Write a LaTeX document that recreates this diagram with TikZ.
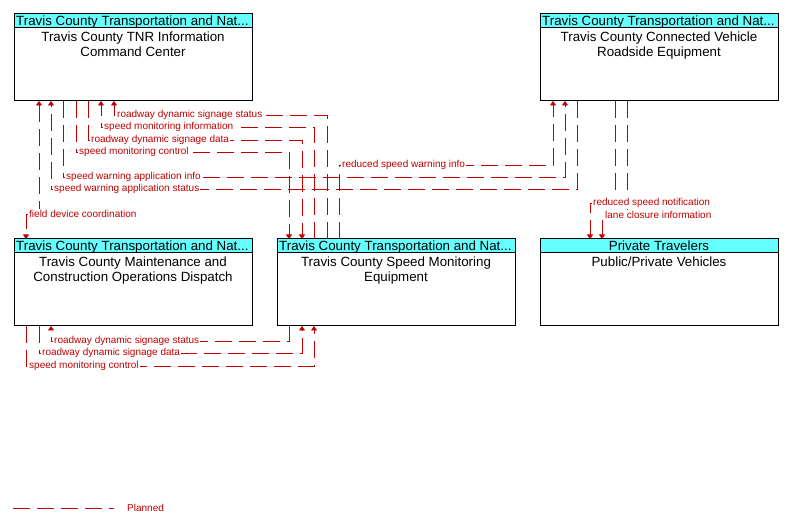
\documentclass[tikz,border=0pt]{standalone}
\usepackage{fontspec}
\setmainfont{Liberation Sans}
\usetikzlibrary{arrows.meta,calc}
\definecolor{flow}{RGB}{192,0,0}
\definecolor{hdr}{RGB}{102,255,255}
\begin{document}
\begin{tikzpicture}[x=1pt,y=-1pt,
  >={Triangle[length=4.5pt,width=6pt]},
  box/.style={draw=black,fill=white,line width=1pt,inner sep=0pt,outer sep=0pt,minimum width=238pt,minimum height=87pt,anchor=north west},
  hdrbox/.style={draw=black,fill=hdr,line width=1pt,inner sep=0pt,outer sep=0pt,minimum width=238pt,minimum height=14pt,anchor=north west},
  hdrtxt/.style={font=\fontsize{13.33}{15}\selectfont,inner sep=0pt,anchor=base west},
  hdrctr/.style={font=\fontsize{13.33}{15}\selectfont,inner sep=0pt,anchor=base},
  bodytxt/.style={font=\fontsize{13.33}{15}\selectfont,align=center,inner sep=0pt,anchor=north},
  conn/.style={draw=flow,line width=0.9pt,dash pattern=on 17pt off 7pt},
  lbl/.style={text=flow,font=\fontsize{10}{11}\selectfont,fill=white,inner sep=1pt,anchor=west}
]
\useasboundingbox (0,0) rectangle (788,526);

% boxes
\node[box] (tnr) at (14,14) {};
\node[hdrbox] (tnrh) at (tnr.north west) {};
\node[hdrtxt] (tnrht) at ($(tnrh.north west)+(2,12)$) {Travis County Transportation and Nat...};
\node[bodytxt] (tnrt) at ($(tnr.north)+(0,17.5)$) {Travis County TNR Information\\Command Center};

\node[box] (cv) at (540,14) {};
\node[hdrbox] (cvh) at (cv.north west) {};
\node[hdrtxt] (cvht) at ($(cvh.north west)+(2,12)$) {Travis County Transportation and Nat...};
\node[bodytxt] (cvt) at ($(cv.north)+(0,17.5)$) {Travis County Connected Vehicle\\Roadside Equipment};

\node[box] (mnt) at (14,239) {};
\node[hdrbox] (mnth) at (mnt.north west) {};
\node[hdrtxt] (mntht) at ($(mnth.north west)+(2,12)$) {Travis County Transportation and Nat...};
\node[bodytxt] (mntt) at ($(mnt.north)+(0,17.5)$) {Travis County Maintenance and\\Construction Operations Dispatch};

\node[box] (spd) at (277,239) {};
\node[hdrbox] (spdh) at (spd.north west) {};
\node[hdrtxt] (spdht) at ($(spdh.north west)+(2,12)$) {Travis County Transportation and Nat...};
\node[bodytxt] (spdt) at ($(spd.north)+(0,17.5)$) {Travis County Speed Monitoring\\Equipment};

\node[box] (pt) at (540,239) {};
\node[hdrbox] (pth) at (pt.north west) {};
\node[hdrctr] (ptht) at ($(pth.north)+(0,12)$) {Private Travelers};
\node[bodytxt] (ptt) at ($(pt.north)+(0,17.5)$) {Public/Private Vehicles};

% attachment points
\coordinate (tB25) at ([xshift=25pt]tnr.south west);
\coordinate (tB37) at ([xshift=37pt]tnr.south west);
\coordinate (tB49) at ([xshift=49pt]tnr.south west);
\coordinate (tB62) at ([xshift=62pt]tnr.south west);
\coordinate (tB74) at ([xshift=74pt]tnr.south west);
\coordinate (tB87) at ([xshift=87pt]tnr.south west);
\coordinate (tB100) at ([xshift=100pt]tnr.south west);
\coordinate (sT12) at ([xshift=12pt]spd.north west);
\coordinate (sT25) at ([xshift=25pt]spd.north west);
\coordinate (sT37) at ([xshift=37pt]spd.north west);
\coordinate (sT50) at ([xshift=50pt]spd.north west);
\coordinate (sT62) at ([xshift=62pt]spd.north west);
\coordinate (sB12) at ([xshift=12pt]spd.south west);
\coordinate (sB25) at ([xshift=25pt]spd.south west);
\coordinate (sB37) at ([xshift=37pt]spd.south west);
\coordinate (mT12) at ([xshift=12pt]mnt.north west);
\coordinate (mB12) at ([xshift=12pt]mnt.south west);
\coordinate (mB25) at ([xshift=25pt]mnt.south west);
\coordinate (mB37) at ([xshift=37pt]mnt.south west);
\coordinate (cB13) at ([xshift=13pt]cv.south west);
\coordinate (cB25) at ([xshift=25pt]cv.south west);
\coordinate (cB37) at ([xshift=37pt]cv.south west);
\coordinate (cB75) at ([xshift=75pt]cv.south west);
\coordinate (cB87) at ([xshift=87pt]cv.south west);
\coordinate (pT50) at ([xshift=50pt]pt.north west);
\coordinate (pT62) at ([xshift=62pt]pt.north west);

% levels
\coordinate (L115) at (0,115);
\coordinate (L127) at (0,127);
\coordinate (L140) at (0,140);
\coordinate (L152) at (0,152);
\coordinate (L165) at (0,165);
\coordinate (L177) at (0,177);
\coordinate (L189) at (0,189);
\coordinate (L203) at (0,203);
\coordinate (L214) at (0,214);
\coordinate (L215) at (0,215);
\coordinate (L341) at (0,341);
\coordinate (L353) at (0,353);
\coordinate (L366) at (0,366);

% connectors
\draw[conn,->] (sT50) -- (sT50 |- L115) -| (tB100);
\draw[conn,->] (sT37) -- (sT37 |- L127) -| (tB87);
\draw[conn,->] (tB74) -- (tB74 |- L140) -| (sT25);
\draw[conn,->] (tB62) -- (tB62 |- L152) -| (sT12);
\draw[conn,->] (tB49) -- (tB49 |- L177) -| (cB25);
\draw[conn,->] (cB37) -- (cB37 |- L189) -| (tB37);
\draw[conn,<->] (tB25) -- (tB25 |- L214) -| (mT12);
\draw[conn,->] (sT62) -- (sT62 |- L165) -| (cB13);
\draw[conn,->] (cB75) -- (cB75 |- L203) -| (pT50);
\draw[conn,->] (cB87) -- (cB87 |- L215) -| (pT62);
\draw[conn,->] (sB12) -- (sB12 |- L341) -| (mB37);
\draw[conn,->] (mB25) -- (mB25 |- L353) -| (sB25);
\draw[conn,->] (mB12) -- (mB12 |- L366) -| (sB37);

% labels
\node[lbl,xshift=2pt] (l1) at (tB100 |- L115) {roadway dynamic signage status};
\node[lbl,xshift=2pt] (l2) at (tB87 |- L127) {speed monitoring information};
\node[lbl,xshift=2pt] (l3) at (tB74 |- L140) {roadway dynamic signage data};
\node[lbl,xshift=2pt] (l4) at (tB62 |- L152) {speed monitoring control};
\node[lbl,xshift=2pt] (l5) at (tB49 |- L177) {speed warning application info};
\node[lbl,xshift=2pt] (l6) at (tB37 |- L189) {speed warning application status};
\node[lbl,xshift=2pt] (l7) at (mT12 |- L214) {field device coordination};
\node[lbl,xshift=2pt] (l8) at (sT62 |- L165) {reduced speed warning info};
\node[lbl,xshift=2pt] (l9) at (pT50 |- L203) {reduced speed notification};
\node[lbl,xshift=2pt] (l10) at (pT62 |- L215) {lane closure information};
\node[lbl,xshift=2pt] (l11) at (mB37 |- L341) {roadway dynamic signage status};
\node[lbl,xshift=2pt] (l12) at (mB25 |- L353) {roadway dynamic signage data};
\node[lbl,xshift=2pt] (l13) at (mB12 |- L366) {speed monitoring control};

% legend
\coordinate (lg1) at (13,508);
\coordinate (lg2) at (114,508);
\draw[conn] (lg1) -- (lg2);
\node[text=flow,font=\fontsize{10}{11}\selectfont,inner sep=0pt,anchor=west] (lgt) at (127,508) {Planned};
\end{tikzpicture}
\end{document}
